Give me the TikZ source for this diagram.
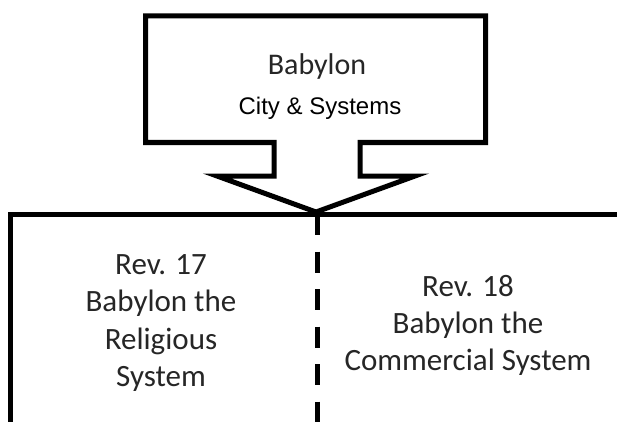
\documentclass[tikz,border=0pt]{standalone}
\usepackage{fontspec}
\setmainfont{Carlito}
\newfontfamily\arialfont{Liberation Sans}
\usetikzlibrary{positioning}

\begin{document}
\begin{tikzpicture}[
	x=1pt,
	y=-1pt,
	line width=5pt,
	align=center,
	heading/.style={
		font=\fontsize{30}{37}\selectfont,
		text=black!85
	},
	subheading/.style={
		font=\arialfont\fontsize{24}{30}\selectfont
	},
	part/.style={
		font=\fontsize{31}{37.3}\selectfont,
		text=black!85
	},
	divider/.style={
		dash pattern=on 21pt off 16.5pt
	}]

   \useasboundingbox (0,0) rectangle (617,422);

   % callout arrow
   \draw (145.5,16) -- (485.5,16) -- (485.5,142.5) -- (360,142.5) -- (360,176)
     -- (415,176) -- (316,212) -- (217,176) -- (274,176) -- (274,142.5)
     -- (145.5,142.5) -- cycle;
   \node[heading, anchor=base] (babylon) at (317,75) {Babylon};
   \node[subheading, anchor=base] (city) at (320,115) {City \& Systems};

   % frame and divider
   \coordinate (corner) at (10,214);
   \coordinate (tip) at (317,214);
   \coordinate (floor) at (317,422);
   \draw (10,422) -- (corner) -- (617,214);
   \draw[divider] (tip) -- (floor);

   \node[part] (rev17) at (161,323) {Rev. 17\\Babylon the\\Religious\\System};
   \node[part] (rev18) at (468,325.5) {Rev. 18\\Babylon the\\Commercial System};
\end{tikzpicture}
\end{document}
